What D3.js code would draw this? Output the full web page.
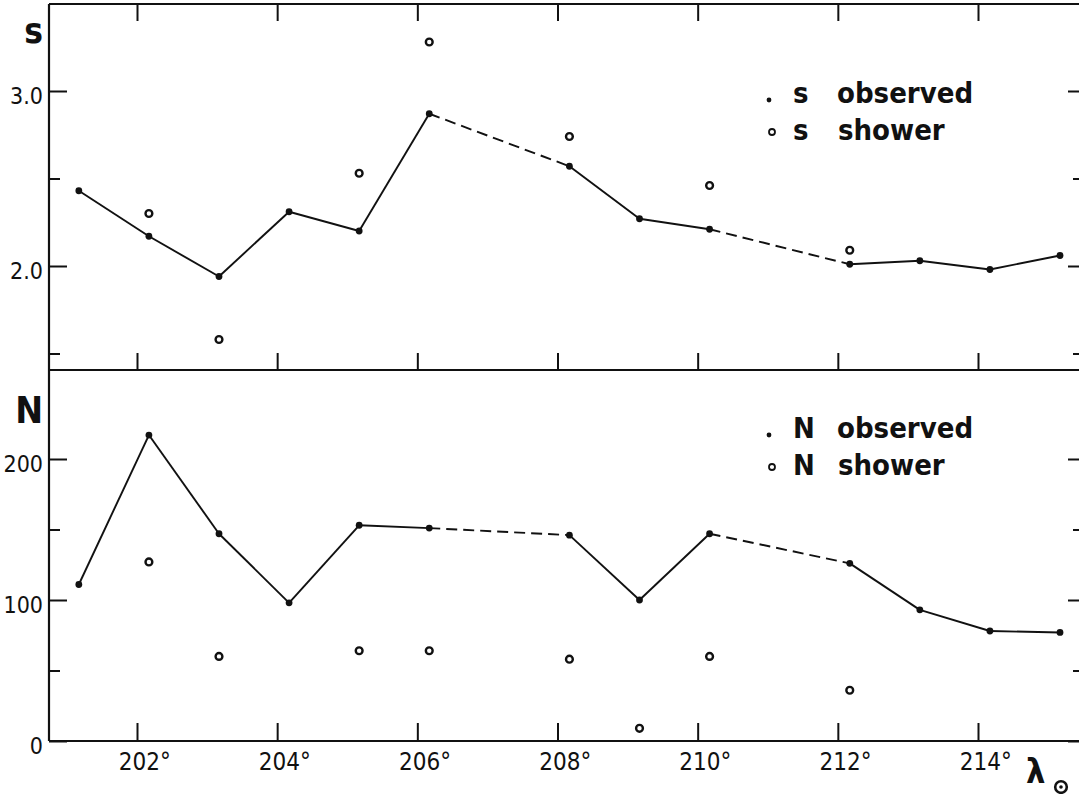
<!DOCTYPE html>
<html lang="en">
<head>
<meta charset="UTF-8">
<title>s and N versus solar longitude</title>
<script src="https://d3js.org/d3.v7.min.js"></script>
<style>
  body { margin: 0; background: #fff; }
  text { font-family: "DejaVu Sans Condensed", "DejaVu Sans", sans-serif; fill: #111; }
</style>
</head>
<body>
<div id="chart"></div>
<script>

// solar longitude of each observed night
const lambdaObs = [201.17, 202.17, 203.17, 204.17, 205.17, 206.17, 208.17, 209.17, 210.17, 212.17, 213.17, 214.17, 215.17];
const sObserved = [2.43, 2.17, 1.94, 2.31, 2.20, 2.87, 2.57, 2.27, 2.21, 2.01, 2.03, 1.98, 2.06];
const nObserved = [111, 217, 147, 98, 153, 151, 146, 100, 147, 126, 93, 78, 77];

// shower values (open circles)
const lambdaShowerS = [202.17, 203.17, 205.17, 206.17, 208.17, 210.17, 212.17];
const sShower = [2.30, 1.58, 2.53, 3.28, 2.74, 2.46, 2.09];
const lambdaShowerN = [202.17, 203.17, 205.17, 206.17, 208.17, 209.17, 210.17, 212.17];
const nShower = [127, 60, 64, 64, 58, 9, 60, 36];

// segments that start at these longitudes are dashed (gaps in the data)
const dashedFrom = [206.17, 210.17];

const xTicks = [202, 204, 206, 208, 210, 212, 214];
const sMajor = [2.0, 3.0], sMinor = [1.5, 2.5];
const nMajor = [0, 100, 200], nMinor = [50, 150];

const width = 1079, height = 794;
const frameL = 49, frameR = 1080, frameT = 4, frameM = 370, frameB = 741;

const svg = d3.select('#chart').append('svg')
    .attr('width', width)
    .attr('height', height);

const x = d3.scaleLinear().domain([202, 214]).range([137, 978]);
const yS = d3.scaleLinear().domain([2, 3]).range([266, 91]);
const yN = d3.scaleLinear().domain([0, 200]).range([741, 459]);

//frame lines
const frame = svg.append('g').attr('stroke', '#111').attr('stroke-width', 2.2);
frame.append('line').attr('x1', frameL).attr('x2', frameR).attr('y1', frameT).attr('y2', frameT);
frame.append('line').attr('x1', frameL).attr('x2', frameR).attr('y1', frameM).attr('y2', frameM);
frame.append('line').attr('x1', frameL).attr('x2', frameR).attr('y1', frameB).attr('y2', frameB);
frame.append('line').attr('x1', frameL).attr('x2', frameL).attr('y1', frameT).attr('y2', frameB);

function styleAxis(g, size) {
    g.select('.domain').remove();
    g.selectAll('.tick line').attr('stroke', '#111').attr('stroke-width', 2);
    g.selectAll('.tick text').attr('font-family', '"DejaVu Sans Condensed", "DejaVu Sans", sans-serif')
        .attr('font-size', size || 23).attr('fill', '#111');
}

//x ticks: top frame, middle line and bottom axis with labels
svg.append('g').attr('transform', `translate(0,${frameT})`)
    .call(d3.axisBottom(x).tickValues(xTicks).tickSize(17).tickFormat(''))
    .call(styleAxis);
svg.append('g').attr('transform', `translate(0,${frameM})`)
    .call(d3.axisTop(x).tickValues(xTicks).tickSize(17).tickFormat(''))
    .call(styleAxis);
svg.append('g').attr('transform', `translate(0,${frameB})`)
    .call(d3.axisBottom(x).tickValues(xTicks).tickSize(-18).tickPadding(12).tickFormat(d => d + '°'))
    .call(g => styleAxis(g, 24))
    .call(g => g.selectAll('.tick text').attr('dx', '0.3em'));

//y ticks left (inward) with labels, right side short marks
function yAxes(scale, major, minor, fmt) {
    svg.append('g').attr('transform', `translate(${frameL},0)`)
        .call(d3.axisLeft(scale).tickValues(major).tickSize(-18).tickPadding(6).tickFormat(fmt))
        .call(styleAxis)
        .call(g => g.selectAll('.tick text').attr('dy', '0.55em'));
    svg.append('g').attr('transform', `translate(${frameL},0)`)
        .call(d3.axisLeft(scale).tickValues(minor).tickSize(-11).tickFormat(''))
        .call(styleAxis);
    svg.append('g').attr('transform', `translate(1079,0)`)
        .call(d3.axisRight(scale).tickValues(major).tickSize(-11).tickFormat(''))
        .call(styleAxis);
    svg.append('g').attr('transform', `translate(1079,0)`)
        .call(d3.axisRight(scale).tickValues(minor).tickSize(-6).tickFormat(''))
        .call(styleAxis);
}
yAxes(yS, sMajor, sMinor, d3.format('.1f'));
yAxes(yN, nMajor, nMinor, d3.format('d'));

//lines drawn segment by segment so some can be dashed
function drawSeries(xs, ys, scale, showerX, showerY) {
    const g = svg.append('g');
    const pts = xs.map((d, i) => [d, ys[i]]);
    const segs = d3.pairs(pts);
    g.selectAll('line.seg').data(segs).join('line')
        .attr('class', 'seg')
        .attr('x1', d => x(d[0][0])).attr('y1', d => scale(d[0][1]))
        .attr('x2', d => x(d[1][0])).attr('y2', d => scale(d[1][1]))
        .attr('stroke', '#111')
        .attr('stroke-width', 1.9)
        .attr('stroke-dasharray', d => dashedFrom.includes(d[0][0]) ? '11,6' : null);
    g.selectAll('circle.obs').data(pts).join('circle')
        .attr('class', 'obs')
        .attr('cx', d => x(d[0])).attr('cy', d => scale(d[1]))
        .attr('r', 3.4).attr('fill', '#111');
    g.selectAll('circle.shw').data(showerX.map((d, i) => [d, showerY[i]])).join('circle')
        .attr('class', 'shw')
        .attr('cx', d => x(d[0])).attr('cy', d => scale(d[1]))
        .attr('r', 3.4).attr('fill', 'none').attr('stroke', '#111').attr('stroke-width', 2.4);
}
drawSeries(lambdaObs, sObserved, yS, lambdaShowerS, sShower);
drawSeries(lambdaObs, nObserved, yN, lambdaShowerN, nShower);

//panel labels
svg.append('text').attr('x', 43).attr('y', 43).attr('text-anchor', 'end')
    .attr('font-family', 'DejaVu Sans').attr('font-weight', 'bold').attr('font-size', 35).text('s');
svg.append('text').attr('x', 43).attr('y', 423).attr('text-anchor', 'end')
    .attr('font-weight', 'bold').attr('font-size', 37).text('N');

//legends
function legend(sym, yTop, yBot) {
    const g = svg.append('g').attr('font-family', 'DejaVu Sans').attr('font-weight', 'bold').attr('font-size', 29);
    g.append('circle').attr('cx', 769).attr('cy', yTop - 3).attr('r', 2.4).attr('fill', '#111');
    g.append('circle').attr('cx', 772).attr('cy', yBot - 8).attr('r', 3).attr('fill', 'none')
        .attr('stroke', '#111').attr('stroke-width', 1.8);
    g.append('text').attr('x', 793).attr('y', yTop).text(sym);
    g.append('text').attr('x', 837).attr('y', yTop).text('observed');
    g.append('text').attr('x', 793).attr('y', yBot).text(sym);
    g.append('text').attr('x', 838).attr('y', yBot).text('shower');
}
legend('s', 103, 140);
legend('N', 438, 475);

//x axis label: lambda with sun symbol
svg.append('text').attr('x', 1026).attr('y', 783)
    .attr('font-family', 'DejaVu Sans').attr('font-weight', 'bold').attr('font-size', 34).text('λ');
svg.append('circle').attr('cx', 1061).attr('cy', 787).attr('r', 5.8)
    .attr('fill', 'none').attr('stroke', '#111').attr('stroke-width', 2.6);
svg.append('circle').attr('cx', 1061).attr('cy', 787).attr('r', 1.8).attr('fill', '#111');

</script>
</body>
</html>
